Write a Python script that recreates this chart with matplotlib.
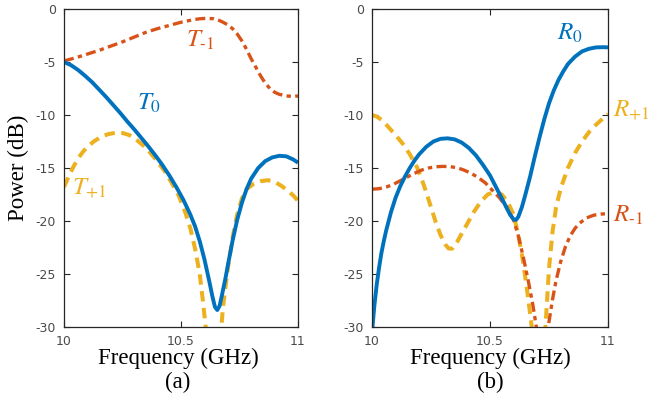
import matplotlib
matplotlib.use("Agg")
import matplotlib.pyplot as plt

plt.rcParams['mathtext.fontset'] = 'stix'

BLUE = '#0072BD'
ORANGE = '#D95319'
YELLOW = '#EDB120'

# ---- panel (a): transmission ----
t0_f = [10.00, 10.03, 10.06, 10.09, 10.12, 10.15, 10.18, 10.21, 10.24, 10.27, 10.30,
        10.33, 10.36, 10.39, 10.42, 10.45, 10.48, 10.51, 10.54, 10.56, 10.58, 10.60,
        10.62, 10.635, 10.645, 10.655, 10.665, 10.675, 10.69, 10.70, 10.72, 10.74,
        10.76, 10.78, 10.80, 10.83, 10.86, 10.89, 10.92, 10.95, 10.98, 11.00]
t0_db = [-5.0, -5.3, -5.75, -6.3, -6.9, -7.6, -8.3, -9.05, -9.8, -10.6, -11.35,
         -12.15, -12.95, -13.8, -14.7, -15.7, -16.8, -18.0, -19.4, -20.5, -21.9, -23.6,
         -25.6, -27.2, -28.1, -28.4, -28.0, -27.0, -25.4, -24.2, -21.9, -19.9,
         -18.3, -17.0, -16.0, -15.0, -14.35, -14.0, -13.85, -13.9, -14.2, -14.5]

tp1_f = [10.00, 10.02, 10.04, 10.06, 10.08, 10.10, 10.13, 10.16, 10.19, 10.22, 10.25,
         10.28, 10.31, 10.34, 10.37, 10.40, 10.43, 10.46, 10.49, 10.52, 10.54, 10.56,
         10.58, 10.595, 10.61, 10.63, 10.65, 10.665, 10.68, 10.70, 10.72, 10.74, 10.76,
         10.78, 10.81, 10.84, 10.87, 10.90, 10.93, 10.96, 10.98, 11.00]
tp1_db = [-16.8, -15.8, -14.9, -14.1, -13.5, -13.0, -12.45, -12.05, -11.8, -11.68, -11.7,
          -11.9, -12.35, -12.9, -13.6, -14.4, -15.3, -16.4, -17.6, -19.3, -20.7, -22.6,
          -25.0, -27.8, -31.0, -35.0, -36.0, -32.0, -28.0, -24.5, -21.6, -19.4, -17.9,
          -17.0, -16.5, -16.25, -16.15, -16.3, -16.7, -17.2, -17.6, -18.1]

tm1_f = [10.00, 10.05, 10.10, 10.15, 10.20, 10.25, 10.30, 10.35, 10.40, 10.45, 10.50,
         10.55, 10.58, 10.61, 10.64, 10.66, 10.68, 10.70, 10.72, 10.74, 10.76, 10.78,
         10.80, 10.82, 10.84, 10.86, 10.88, 10.90, 10.92, 10.95, 10.98, 11.00]
tm1_db = [-4.9, -4.6, -4.25, -3.9, -3.5, -3.1, -2.65, -2.2, -1.85, -1.55, -1.25,
          -1.02, -0.92, -0.88, -0.92, -1.05, -1.25, -1.5, -1.85, -2.35, -3.0, -3.8,
          -4.7, -5.5, -6.3, -7.0, -7.5, -7.85, -8.05, -8.2, -8.25, -8.2]

# ---- panel (b): reflection ----
r0_f = [10.000, 10.01, 10.02, 10.03, 10.04, 10.05, 10.06, 10.08, 10.10, 10.12, 10.14,
        10.16, 10.18, 10.20, 10.23, 10.26, 10.29, 10.32, 10.35, 10.38, 10.41, 10.44,
        10.47, 10.50, 10.53, 10.56, 10.585, 10.60, 10.61, 10.62, 10.635, 10.65, 10.67,
        10.69, 10.71, 10.73, 10.75, 10.77, 10.79, 10.81, 10.83, 10.86, 10.89, 10.92,
        10.95, 10.98, 11.00]
r0_db = [-30.5, -28.0, -26.0, -24.4, -23.0, -21.9, -20.9, -19.2, -17.8, -16.7, -15.8,
         -15.0, -14.3, -13.7, -13.0, -12.5, -12.25, -12.2, -12.3, -12.6, -13.1, -13.8,
         -14.7, -15.7, -17.0, -18.3, -19.4, -19.85, -19.9, -19.6, -18.7, -17.5, -15.8,
         -13.9, -12.1, -10.4, -8.9, -7.7, -6.7, -5.9, -5.2, -4.5, -4.0, -3.75,
         -3.62, -3.6, -3.62]

rp1_f = [10.00, 10.02, 10.04, 10.06, 10.08, 10.10, 10.13, 10.16, 10.19, 10.21, 10.23,
         10.25, 10.27, 10.29, 10.31, 10.325, 10.34, 10.36, 10.38, 10.40, 10.43, 10.46,
         10.49, 10.52, 10.55, 10.575, 10.60, 10.62, 10.64, 10.66, 10.68, 10.70, 10.72,
         10.735, 10.75, 10.765, 10.78, 10.80, 10.83, 10.86, 10.89, 10.92, 10.95, 10.98,
         11.00]
rp1_db = [-10.0, -10.15, -10.45, -10.9, -11.4, -11.9, -12.7, -13.7, -14.9, -16.0, -17.3,
          -18.7, -20.1, -21.3, -22.2, -22.6, -22.6, -22.0, -21.2, -20.4, -19.2, -18.2,
          -17.5, -17.25, -17.5, -18.2, -19.4, -21.3, -23.8, -27.0, -30.5, -34.0, -33.0,
          -30.0, -24.5, -21.0, -18.7, -16.9, -15.0, -13.6, -12.5, -11.6, -10.9, -10.3,
          -9.9]

rm1_f = [10.00, 10.03, 10.06, 10.09, 10.12, 10.15, 10.18, 10.21, 10.24, 10.27, 10.30,
         10.33, 10.36, 10.39, 10.42, 10.45, 10.48, 10.51, 10.54, 10.57, 10.60, 10.62,
         10.64, 10.66, 10.68, 10.70, 10.72, 10.74, 10.75, 10.765, 10.78, 10.80, 10.82,
         10.84, 10.86, 10.88, 10.91, 10.94, 10.97, 11.00]
rm1_db = [-17.0, -16.95, -16.8, -16.55, -16.2, -15.85, -15.5, -15.2, -15.0, -14.88, -14.85,
          -14.87, -14.97, -15.2, -15.5, -15.9, -16.4, -17.1, -17.8, -18.7, -19.9, -21.4,
          -23.3, -25.4, -27.7, -30.5, -34.0, -31.0, -29.5, -27.4, -25.6, -23.8, -22.4,
          -21.4, -20.7, -20.2, -19.7, -19.45, -19.35, -19.3]

xticks = [10, 10.5, 11]
xtick_labels = ['10', '10.5', '11']
yticks = [0, -5, -10, -15, -20, -25, -30]
ytick_labels = ['0', '-5', '-10', '-15', '-20', '-25', '-30']

fig = plt.figure(figsize=(6.49, 3.96), dpi=100)
axL = fig.add_axes([64/649, 1-327/396, 234/649, 318/396])
axR = fig.add_axes([372/649, 1-327/396, 236/649, 318/396])

TICKFONT = dict(family='DejaVu Sans', size=9, color='#4a4a4a', weight='normal')

for ax in (axL, axR):
    ax.set_xlim(10, 11)
    ax.set_ylim(-30, 0)
    ax.set_xticks(xticks)
    ax.set_xticklabels(xtick_labels, **TICKFONT)
    ax.set_yticks(yticks)
    ax.set_yticklabels(ytick_labels, **TICKFONT)
    ax.tick_params(direction='in', length=4, width=0.8, color='#262626',
                   top=True, right=True)
    ax.tick_params(axis='y', pad=6)
    ax.tick_params(axis='x', pad=6)
    for s in ('left', 'right', 'bottom', 'top'):
        ax.spines[s].set_color('#262626')
        ax.spines[s].set_linewidth(0.9)

DASH = (2.6, 1.6)
DASHDOT = (3.0, 1.3, 1.3, 1.3)

# panel (a)
axL.plot(tm1_f, tm1_db, color=ORANGE, lw=2.4, dashes=DASHDOT)
axL.plot(tp1_f, tp1_db, color=YELLOW, lw=2.9, dashes=DASH)
axL.plot(t0_f, t0_db, color=BLUE, lw=2.8, solid_capstyle='butt')

axL.text(10.522, -2.9, r'$T_{\text{-1}}$', color=ORANGE, fontsize=18, va='center', ha='left')
axL.text(10.31, -8.9, r'$T_0$', color=BLUE, fontsize=18, va='center', ha='left')
axL.text(10.035, -16.9, r'$T_{+1}$', color=YELLOW, fontsize=18, va='center', ha='left')

# panel (b)
axR.plot(rp1_f, rp1_db, color=YELLOW, lw=2.9, dashes=DASH)
axR.plot(rm1_f, rm1_db, color=ORANGE, lw=2.4, dashes=DASHDOT)
axR.plot(r0_f, r0_db, color=BLUE, lw=2.8, solid_capstyle='butt')

axR.text(10.785, -2.3, r'$R_0$', color=BLUE, fontsize=18, va='center', ha='left')
axR.text(11.02, -9.5, r'$R_{+1}$', color=YELLOW, fontsize=18, va='center', ha='left', clip_on=False)
axR.text(11.02, -19.4, r'$R_{\text{-1}}$', color=ORANGE, fontsize=18, va='center', ha='left', clip_on=False)

SERIF = dict(family=['Liberation Serif', 'DejaVu Serif'], size=16.5, color='black')
fig.text(178/649, 1-364/396, 'Frequency (GHz)', ha='center', va='baseline', **SERIF)
fig.text(178/649, 1-388/396, '(a)', ha='center', va='baseline', **SERIF)
fig.text(490/649, 1-364/396, 'Frequency (GHz)', ha='center', va='baseline', **SERIF)
fig.text(490/649, 1-388/396, '(b)', ha='center', va='baseline', **SERIF)
fig.text(18/649, 1-168/396, 'Power (dB)', ha='center', va='center', rotation=90, **SERIF)

fig.savefig('out.png', dpi=100, facecolor='white')
